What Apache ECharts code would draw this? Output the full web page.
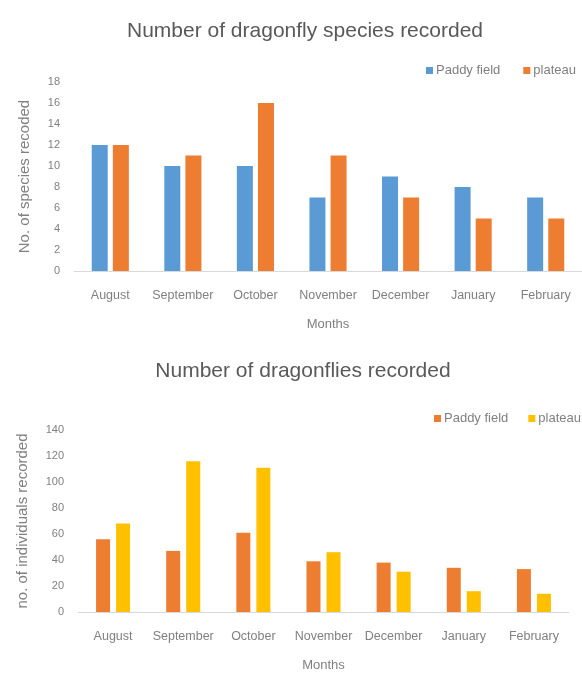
<!DOCTYPE html>
<html>
<head>
<meta charset="utf-8">
<script src="https://cdn.jsdelivr.net/npm/echarts@6/dist/echarts.min.js"></script>
<style>
  html, body { margin: 0; padding: 0; background: #ffffff; }
  #species { position: absolute; left: 0; top: 0; width: 582px; height: 340px; }
  #individuals { position: absolute; left: 0; top: 340px; width: 582px; height: 337px; }
</style>
</head>
<body>
<div id="species"></div>
<div id="individuals"></div>
<script>
// Survey months (x axis of both charts)
const months = ['August', 'September', 'October', 'November', 'December', 'January', 'February'];

// Species counts per month
const speciesPaddy = [12, 10, 10, 7, 9, 8, 7];
const speciesPlateau = [12, 11, 16, 11, 7, 5, 5];

// Individual dragonflies counted per month
const individualsPaddy = [56, 47, 61, 39, 38, 34, 33];
const individualsPlateau = [68, 116, 111, 46, 31, 16, 14];

const FONT = '"Liberation Sans", Arial, sans-serif';
const TITLE_COLOR = '#595959';
const LABEL_COLOR = '#808080';
const AXIS_COLOR = '#d9d9d9';

function buildOption(cfg) {
  return {
    animation: false,
    backgroundColor: '#ffffff',
    textStyle: { fontFamily: FONT },
    title: {
      text: cfg.title,
      left: cfg.titleCenter,
      top: cfg.titleTop,
      textAlign: 'center',
      textStyle: { color: TITLE_COLOR, fontSize: 21, fontWeight: 'normal', fontFamily: FONT }
    },
    legend: {
      left: cfg.legendLeft,
      top: cfg.legendTop,
      width: 400,
      orient: 'horizontal',
      itemWidth: 7,
      itemHeight: 7,
      itemGap: cfg.legendGap,
      icon: 'rect',
      textStyle: { color: LABEL_COLOR, fontSize: 13, fontFamily: FONT, padding: [0, 0, 0, -2] },
      data: cfg.names
    },
    grid: cfg.grid,
    xAxis: {
      type: 'category',
      data: months,
      name: 'Months',
      nameLocation: 'middle',
      nameGap: 47,
      nameTextStyle: { color: LABEL_COLOR, fontSize: 13, fontFamily: FONT },
      axisLine: { lineStyle: { color: AXIS_COLOR, width: 1 } },
      axisTick: { show: false },
      axisLabel: { color: LABEL_COLOR, fontSize: 12.5, margin: 18, fontFamily: FONT, interval: 0 }
    },
    yAxis: {
      type: 'value',
      min: 0,
      max: cfg.yMax,
      interval: cfg.yInterval,
      name: cfg.yName,
      nameLocation: 'middle',
      nameGap: cfg.yNameGap,
      nameRotate: 90,
      nameTextStyle: { color: LABEL_COLOR, fontSize: 15, fontFamily: FONT },
      axisLine: { show: false },
      axisTick: { show: false },
      splitLine: { show: false },
      axisLabel: { color: LABEL_COLOR, fontSize: 11, margin: 14, fontFamily: FONT }
    },
    series: [
      {
        name: cfg.names[0],
        type: 'bar',
        data: cfg.values[0],
        barWidth: cfg.barWidth,
        barGap: cfg.barGap,
        itemStyle: { color: cfg.colors[0] }
      },
      {
        name: cfg.names[1],
        type: 'bar',
        data: cfg.values[1],
        barWidth: cfg.barWidth,
        barGap: cfg.barGap,
        itemStyle: { color: cfg.colors[1] }
      }
    ]
  };
}

const speciesChart = echarts.init(document.getElementById('species'), null, { renderer: 'canvas' });
speciesChart.setOption(buildOption({
  title: 'Number of dragonfly species recorded',
  titleCenter: 300,
  titleTop: 16,
  legendLeft: 421,
  legendTop: 59,
  legendGap: 23,
  names: ['Paddy field', 'plateau'],
  values: [speciesPaddy, speciesPlateau],
  colors: ['#5b9bd5', '#ed7d31'],
  grid: { left: 74, right: 0, top: 82, bottom: 69 },
  yMax: 18,
  yInterval: 2,
  yName: 'No. of species recoded',
  yNameGap: 42,
  barWidth: 16,
  barGap: '32%'
}));

const individualsChart = echarts.init(document.getElementById('individuals'), null, { renderer: 'canvas' });
individualsChart.setOption(buildOption({
  title: 'Number of dragonflies recorded',
  titleCenter: 298,
  titleTop: 16,
  legendLeft: 429,
  legendTop: 67,
  legendGap: 20,
  names: ['Paddy field', 'plateau'],
  values: [individualsPaddy, individualsPlateau],
  colors: ['#ed7d31', '#ffc000'],
  grid: { left: 78, right: 13, top: 90, bottom: 62 },
  yMax: 140,
  yInterval: 20,
  yName: 'no. of individuals recorded',
  yNameGap: 48,
  barWidth: 14,
  barGap: '43%'
}));
</script>
</body>
</html>
